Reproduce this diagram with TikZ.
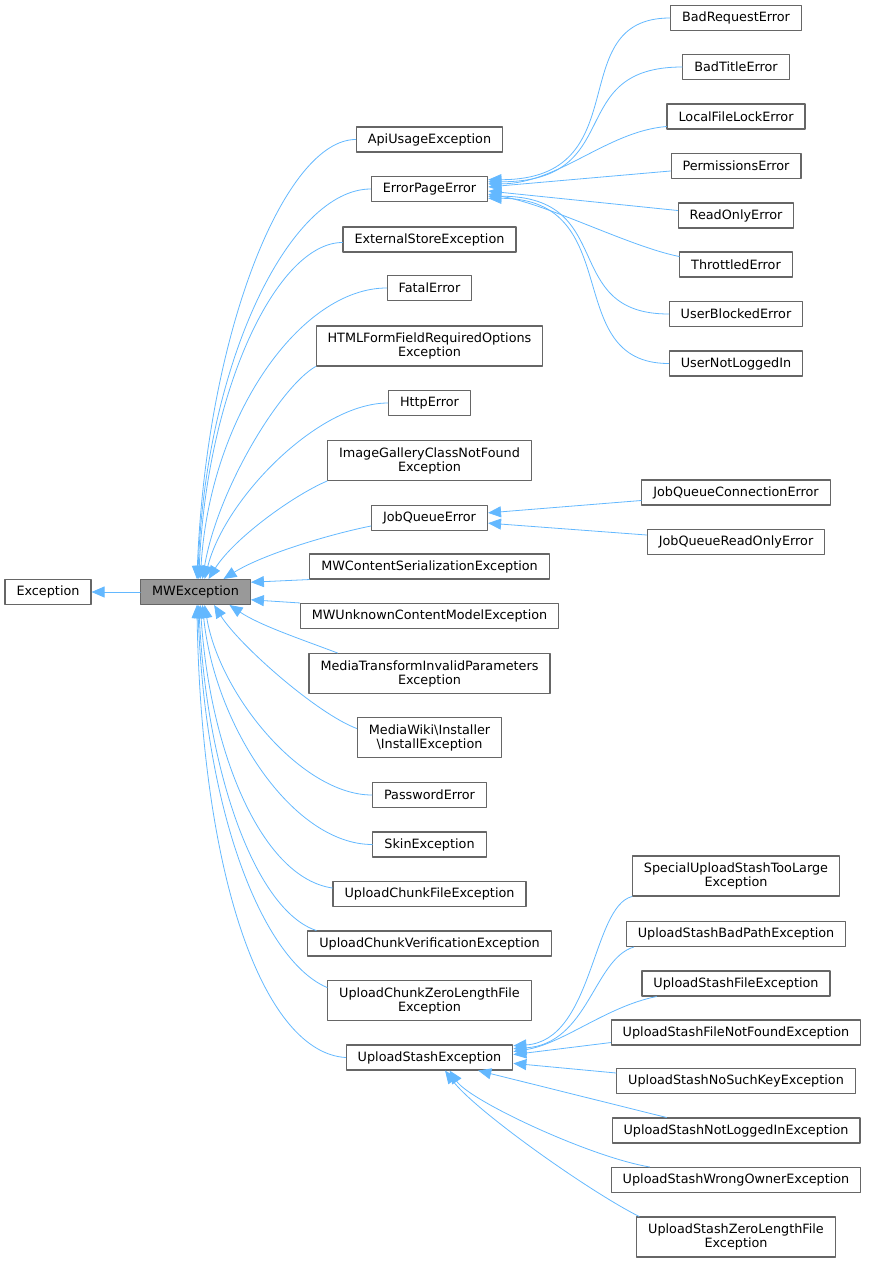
\documentclass[tikz,border=0pt]{standalone}
\usepackage{fontspec}
\setmainfont{DejaVu Sans}
\usetikzlibrary{arrows.meta}
\definecolor{edgeblue}{HTML}{63B8FF}
\definecolor{boxgray}{HTML}{666666}
\definecolor{basegray}{HTML}{999999}
\begin{document}
\begin{tikzpicture}[x=1pt,y=-1pt,line join=round,line cap=round]
	\tikzset{cls/.style={draw=boxgray,line width=1.1pt,fill=white,inner xsep=11.5pt,inner ysep=3pt,minimum height=25pt,font=\fontsize{12.8}{14}\selectfont,align=center},
		cls2/.style={cls,minimum height=40pt},
		inh/.style={draw=edgeblue,line width=0.8pt,-{Triangle[length=13pt,width=11pt]}}}
	\useasboundingbox (0,0) rectangle (868,1263);
	% base classes
	\node[cls] (exc) at (48,592) {Exception};
	\node[cls,fill=basegray] (mw) at (195.5,592) {MWException};
	% direct subclasses of MWException
	\foreach \n/\y/\t in {api/139.5/ApiUsageException, epe/189/ErrorPageError, ext/239.5/ExternalStoreException,
		fatal/288/FatalError, http/403/HttpError, jqe/518/JobQueueError, mwcs/566.5/MWContentSerializationException,
		mwuc/616/MWUnknownContentModelException, pwd/795/PasswordError, skin/844.5/SkinException,
		ucf/894/UploadChunkFileException, ucv/943.5/UploadChunkVerificationException, use/1057.5/UploadStashException}
	\node[cls] (\n) at (429.5,\y) {\t};
	\node[cls2] (html) at (429.5,346) {HTMLFormFieldRequiredOptions\\Exception};
	\node[cls2] (igc) at (429.5,460.5) {ImageGalleryClassNotFound\\Exception};
	\node[cls2] (mti) at (429.5,673.5) {MediaTransformInvalidParameters\\Exception};
	\node[cls2] (inst) at (429.5,737.5) {MediaWiki\textbackslash Installer\\\textbackslash InstallException};
	\node[cls2] (ucz) at (429.5,1000.5) {UploadChunkZeroLengthFile\\Exception};
	% subclasses of ErrorPageError
	\foreach \n/\y/\t in {brq/18/BadRequestError, bte/67/BadTitleError, lfl/116.5/LocalFileLockError,
		perm/166/PermissionsError, rdo/215.5/ReadOnlyError, thr/264.5/ThrottledError,
		ubl/314/UserBlockedError, unl/363.5/UserNotLoggedIn}
	\node[cls] (\n) at (736,\y) {\t};
	% subclasses of JobQueueError
	\node[cls] (jqc) at (736,492.5) {JobQueueConnectionError};
	\node[cls] (jqro) at (736,542) {JobQueueReadOnlyError};
	% subclasses of UploadStashException
	\node[cls2] (spec) at (736,876) {SpecialUploadStashTooLarge\\Exception};
	\foreach \n/\y/\t in {bpe/934/UploadStashBadPathException, ufe/983.5/UploadStashFileException,
		fnf/1032.5/UploadStashFileNotFoundException, nsk/1081/UploadStashNoSuchKeyException,
		nli/1130.5/UploadStashNotLoggedInException, wo/1180/UploadStashWrongOwnerException}
	\node[cls] (\n) at (736,\y) {\t};
	\node[cls2] (zl) at (736,1237) {UploadStashZeroLengthFile\\Exception};
	% inheritance edges
	\draw[inh] (mw.west) -- (exc.east);
	\draw[inh] (api.west) .. controls +(-70,0) and +(10,-250) .. (mw.84);
	\draw[inh] (epe.west) .. controls +(-80,0) and +(8,-220) .. (mw.80);
	\draw[inh] ([yshift=-3pt]ext.west) .. controls +(-65,0) and +(8,-190) .. (mw.76);
	\draw[inh] (fatal.west) .. controls +(-85,0) and +(10,-165) .. (mw.70);
	\draw[inh] (html.south west) .. controls +(-35,20) and +(15,-90) .. (mw.62);
	\draw[inh] (http.west) .. controls +(-70,0) and +(20,-80) .. (mw.55);
	\draw[inh] (igc.south west) .. controls +(-35,15) and +(25,-40) .. (mw.45);
	\draw[inh] ([yshift=-8pt]jqe.west) .. controls +(-40,8) and +(40,-25) .. (mw.25);
	\draw[inh] (mwcs.south west) -- (mw.10);
	\draw[inh] (mwuc.north west) -- (mw.-8);
	\draw[inh] ([xshift=29pt]mti.north west) .. controls +(-40,-15) and +(30,20) .. (mw.-21);
	\draw[inh] ([yshift=9pt]inst.west) .. controls +(-40,-15) and +(25,40) .. (mw.-35);
	\draw[inh] (pwd.west) .. controls +(-70,0) and +(15,90) .. (mw.-55);
	\draw[inh] (skin.west) .. controls +(-80,0) and +(12,120) .. (mw.-62);
	\draw[inh] ([yshift=6pt]ucf.west) .. controls +(-70,-10) and +(10,150) .. (mw.-70);
	\draw[inh] ([xshift=9pt]ucv.north west) .. controls +(-60,-20) and +(8,170) .. (mw.-76);
	\draw[inh] ([yshift=13pt]ucz.west) .. controls +(-60,-25) and +(8,220) .. (mw.-80);
	\draw[inh] (use.west) .. controls +(-80,-5) and +(5,280) .. (mw.-84);
	% ErrorPageError
	\draw[inh] (brq.west) .. controls +(-110,0) and +(153,0) .. (epe.9);
	\draw[inh] (bte.west) .. controls +(-120,0) and +(140,0) .. (epe.7);
	\draw[inh] ([yshift=-10pt]lfl.west) .. controls +(-60,5) and +(70,0) .. (epe.5);
	\draw[inh] ([yshift=-5pt]perm.west) -- (epe.2);
	\draw[inh] ([yshift=5pt]rdo.west) -- (epe.-2);
	\draw[inh] ([yshift=8pt]thr.west) .. controls +(-50,-10) and +(60,10) .. (epe.-5);
	\draw[inh] (ubl.west) .. controls +(-110,0) and +(130,0) .. (epe.-7);
	\draw[inh] (unl.west) .. controls +(-110,0) and +(140,0) .. (epe.-9);
	% JobQueueError
	\draw[inh] ([yshift=-8pt]jqc.west) -- (jqe.5);
	\draw[inh] ([yshift=7pt]jqro.west) -- (jqe.-5);
	% UploadStashException
	\draw[inh] (spec.south west) .. controls +(-40,10) and +(80,-5) .. (use.8);
	\draw[inh] ([xshift=8pt]bpe.south west) .. controls +(-40,12) and +(75,-5) .. (use.6);
	\draw[inh] ([xshift=15pt]ufe.south west) .. controls +(-50,10) and +(50,-8) .. (use.4);
	\draw[inh] ([yshift=3pt]fnf.south west) -- (use.2);
	\draw[inh] ([yshift=8pt]nsk.west) -- (use.-4);
	\draw[inh] ([xshift=55pt]nli.north west) -- (use.-15);
	\draw[inh] ([xshift=39pt]wo.north west) .. controls +(-60,-10) and +(20,30) .. (use.-33);
	\draw[inh] ([xshift=3pt]zl.north west) .. controls +(-50,-25) and +(30,40) .. (use.-40);
\end{tikzpicture}
\end{document}
